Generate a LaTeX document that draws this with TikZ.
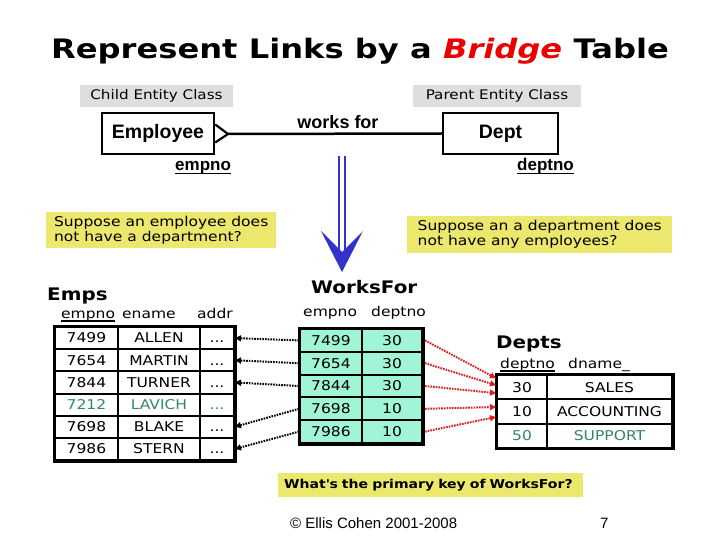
\documentclass[tikz,border=0pt]{standalone}
\usepackage{fontspec}
\setmainfont[FakeStretch=1.15]{DejaVu Sans}
\newfontfamily\titlefont[FakeStretch=1.2]{DejaVu Sans}
\newfontfamily\arial{Liberation Sans}
\usetikzlibrary{arrows.meta}
\definecolor{ygold}{RGB}{236,232,110}
\definecolor{lgray}{RGB}{222,222,222}
\definecolor{aqua}{RGB}{160,245,215}
\definecolor{tealtxt}{RGB}{50,135,105}
\definecolor{bblue}{RGB}{51,51,204}
\definecolor{rred}{RGB}{220,30,30}
\definecolor{bred}{RGB}{235,0,0}
\tikzset{
  graybox/.style={fill=lgray, inner sep=0pt, minimum height=22pt, font=\fontsize{13.2}{15}\selectfont},
  yelbox/.style={fill=ygold, anchor=north west, inner xsep=2.5pt, inner ysep=3pt, align=left, font=\fontsize{13.5}{15}\selectfont},
  entity/.style={draw, line width=2.5pt, minimum height=41pt, inner sep=0pt, font=\arial\bfseries\fontsize{19.5}{22}\selectfont},
  keytxt/.style={anchor=base west, inner sep=0pt, font=\arial\bfseries\fontsize{17}{20}\selectfont},
  cell/.style={draw, line width=2pt, inner sep=0pt, text height=9.8pt, text depth=0pt, font=\fontsize{13.5}{15}\selectfont},
  hdr/.style={anchor=base west, inner sep=0pt, font=\fontsize{13.5}{15}\selectfont},
  tbltitle/.style={anchor=base west, inner sep=0pt, font=\bfseries\fontsize{17.3}{20}\selectfont},
  uline/.style={line width=1.4pt},
  blk/.style={line width=2pt, dash pattern=on 1.6pt off 1.1pt, -{Triangle[length=6pt,width=6pt]}},
  redarr/.style={rred, line width=2pt, dash pattern=on 1.6pt off 1.1pt, -{Triangle[length=6pt,width=6pt]}}
}
\begin{document}
\begin{tikzpicture}[x=1pt,y=-1pt]
\useasboundingbox[fill=white] (0,0) rectangle (720,540);
% title
\node[anchor=base, inner sep=0pt] (title) at (360,59) {\titlefont\bfseries\fontsize{26.8}{30}\selectfont Represent Links by a \textcolor{bred}{\itshape Bridge} Table};
% gray labels
\node[graybox, minimum width=153pt] (child) at (156.5,96) {Child Entity Class};
\node[graybox, minimum width=168pt] (parent) at (497,96) {Parent Entity Class};
% entities
\node[entity, minimum width=112pt] (emp) at (158,133.5) {Employee};
\node[entity, minimum width=115pt] (dept) at (500.5,133.5) {Dept};
\coordinate (apex) at (228,134);
\draw[line width=2.5pt] (apex) -- (dept.west);
\draw[line width=2.2pt, line join=miter] ([yshift=9pt]emp.east) -- (apex) -- ([yshift=-9pt]emp.east);
\node[anchor=base, inner sep=0pt, font=\arial\bfseries\fontsize{18}{20}\selectfont] (wf) at (338,129) {works for};
\node[keytxt] (empno) at (175,171) {empno};
\draw[uline] ([yshift=-2.5pt]empno.base west) -- ([yshift=-2.5pt]empno.base east);
\node[keytxt] (deptno) at (517,171) {deptno};
\draw[uline] ([yshift=-2.5pt]deptno.base west) -- ([yshift=-2.5pt]deptno.base east);
% blue arrow
\coordinate (bt) at (342,156);
\coordinate (bb) at (342,250);
\coordinate (tip) at (342,272);
\draw[bblue, line width=2pt] ([xshift=-2.6pt]bt) -- ([xshift=-2.6pt]bb) ([xshift=2.6pt]bt) -- ([xshift=2.6pt]bb);
\fill[bblue] (321,231) -- (tip) -- (363,231) -- (342,252) -- cycle;
% yellow questions
\node[yelbox, minimum width=230pt, minimum height=36pt] (q1) at (46,212) {Suppose an employee does\\not have a department?};
\node[yelbox, inner xsep=7pt, minimum width=265pt, minimum height=37pt] (q2) at (407,216) {Suppose an a department does\\not have any employees?};
\node[fill=ygold, anchor=north west, minimum width=305pt, minimum height=24pt, inner xsep=6pt, text width=293pt, align=left, font=\bfseries\fontsize{12.2}{14}\selectfont] (q3) at (278,473) {\mbox{What\textquotesingle s the primary key of WorksFor?}};
% table titles & headers
\node[tbltitle] (empsT) at (47,300) {Emps};
\node[hdr] (h1) at (61,318) {empno};
\draw[uline, line width=1.2pt] ([yshift=-3pt]h1.base west) -- ([yshift=-3pt]h1.base east);
\node[hdr] (h2) at (122,318) {ename};
\node[hdr] (h3) at (197,318) {addr};
\node[tbltitle] (wfT) at (311,293) {WorksFor};
\node[hdr] (h4) at (303,316) {empno};
\node[hdr] (h5) at (371,316) {deptno};
\node[tbltitle] (depT) at (496,348.5) {Depts};
\node[hdr] (h6) at (500,368) {deptno};
\draw[uline, line width=1.2pt] ([yshift=-3pt]h6.base west) -- ([yshift=-3pt]h6.base east);
\node[hdr] (h7) at (568,368) {dname\_};
% Emps table
\foreach \n/\m/\c [count=\i] in {7499/ALLEN/black,7654/MARTIN/black,7844/TURNER/black,7212/LAVICH/tealtxt,7698/BLAKE/black,7986/STERN/black}{
  \pgfmathsetmacro{\yc}{327+(\i-0.5)*22.17}
  \node[cell, text=\c, minimum width=63pt, minimum height=22.17pt] (e\i a) at (86.5,\yc) {\n};
  \node[cell, text=\c, minimum width=82pt, minimum height=22.17pt] (e\i b) at (159,\yc) {\m};
  \node[cell, text=\c, minimum width=34pt, minimum height=22.17pt] (e\i c) at (217,\yc) {...};
}
\draw[line width=3pt] (e1a.north west) rectangle (e6c.south east);
% WorksFor table
\foreach \n/\m [count=\i] in {7499/30,7654/30,7844/30,7698/10,7986/10}{
  \pgfmathsetmacro{\yc}{329+(\i-0.5)*22.8}
  \node[cell, fill=aqua, minimum width=62pt, minimum height=22.8pt] (w\i a) at (331,\yc) {\n};
  \node[cell, fill=aqua, minimum width=60pt, minimum height=22.8pt] (w\i b) at (392,\yc) {\m};
}
\draw[line width=3pt] (w1a.north west) rectangle (w5b.south east);
% Depts table
\foreach \n/\m/\c [count=\i] in {30/SALES/black,10/ACCOUNTING/black,50/SUPPORT/tealtxt}{
  \pgfmathsetmacro{\yc}{375+(\i-0.5)*24.33}
  \node[cell, text=\c, minimum width=50pt, minimum height=24.33pt] (d\i a) at (522,\yc) {\n};
  \node[cell, text=\c, minimum width=125pt, minimum height=24.33pt] (d\i b) at (609.5,\yc) {\m};
}
\draw[line width=3pt] (d1a.north west) rectangle (d3b.south east);
% black arrows WorksFor -> Emps
\draw[blk] (w1a.west) -- (e1c.east);
\draw[blk] (w2a.west) -- (e2c.east);
\draw[blk] (w3a.west) -- (e3c.east);
\draw[blk] (w4a.west) -- (e5c.east);
\draw[blk] (w5a.west) -- (e6c.east);
% red arrows WorksFor -> Depts
\draw[redarr] ([xshift=2pt]w1b.east) -- ([yshift=9pt]d1a.west);
\draw[redarr] ([xshift=2pt]w2b.east) -- ([yshift=2pt]d1a.west);
\draw[redarr] ([xshift=2pt]w3b.east) -- ([yshift=-6pt]d1a.west);
\draw[redarr] ([xshift=2pt]w4b.east) -- ([yshift=4.5pt]d2a.west);
\draw[redarr] ([xshift=2pt]w5b.east) -- ([yshift=-5.5pt]d2a.west);
% footer
\node[anchor=base west, inner sep=0pt, font=\arial\fontsize{15}{18}\selectfont] (copy) at (290,528) {© Ellis Cohen 2001-2008};
\node[anchor=base west, inner sep=0pt, font=\arial\fontsize{15}{18}\selectfont] (pg) at (600,528) {7};
\end{tikzpicture}
\end{document}
